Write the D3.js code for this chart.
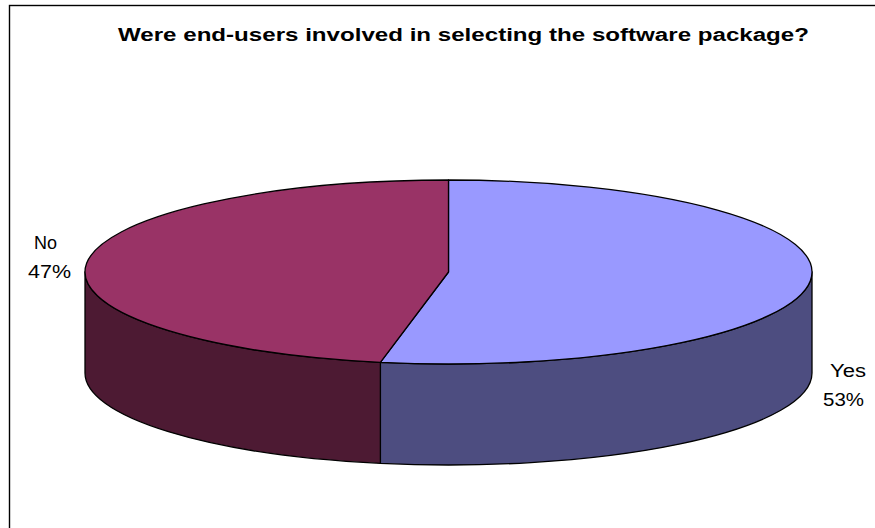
<!DOCTYPE html>
<html>
<head>
<meta charset="utf-8">
<script src="https://cdn.jsdelivr.net/npm/d3@7"></script>
<style>
  html, body { margin: 0; padding: 0; background: #fff; }
  svg { display: block; font-family: "Liberation Sans", Arial, sans-serif; }
</style>
</head>
<body>
<svg id="chart" width="875" height="528"></svg>
<script>
// Survey answers
const categories = ["Yes", "No"];
const values = [53, 47];
const topColors = ["#9999ff", "#993366"];
const sideColors = ["#4d4d80", "#4d1a33"];
const title = "Were end-users involved in selecting the software package?";

const svg = d3.select("#chart");

// chart frame (runs off the right and bottom edges)
svg.append("rect")
  .attr("x", 9.5).attr("y", 5.5)
  .attr("width", 880).attr("height", 540)
  .attr("fill", "#fff").attr("stroke", "#000").attr("stroke-width", 1.4);

// title, drawn with the chart's wide horizontal text stretch
svg.append("text")
  .attr("x", 118).attr("y", 40.5)
  .attr("font-size", 18).attr("font-weight", "bold")
  .attr("textLength", 691).attr("lengthAdjust", "spacingAndGlyphs")
  .text(title);

// 3D pie geometry
const cx = 448.5, cy = 272, rx = 363.5, ry = 92, depth = 101;
const pt = (a, dy = 0) => [cx + rx * Math.sin(a), cy - ry * Math.cos(a) + dy];

const pie = d3.pie().sort(null).value(d => d.value).startAngle(0).endAngle(2 * Math.PI);
const data = categories.map((c, i) => ({ name: c, value: values[i], i }));
const arcs = pie(data);
const total = d3.sum(values);

const g = svg.append("g");

// front walls: only the part of each slice's rim between 3 and 9 o'clock is visible
arcs.forEach(a => {
  const s = Math.max(a.startAngle, Math.PI / 2);
  const e = Math.min(a.endAngle, 3 * Math.PI / 2);
  if (s >= e) return;
  const p0 = pt(s), p1 = pt(e), q1 = pt(e, depth), q0 = pt(s, depth);
  const path = `M${p0}A${rx},${ry} 0 0 1 ${p1}L${q1}A${rx},${ry} 0 0 0 ${q0}Z`;
  g.append("path").attr("d", path)
    .attr("fill", sideColors[a.data.i])
    .attr("stroke", "#000").attr("stroke-width", 1.3).attr("stroke-linejoin", "round");
});

// top faces
arcs.forEach(a => {
  const p0 = pt(a.startAngle), p1 = pt(a.endAngle);
  const large = (a.endAngle - a.startAngle) > Math.PI ? 1 : 0;
  const path = `M${cx},${cy}L${p0}A${rx},${ry} 0 ${large} 1 ${p1}Z`;
  g.append("path").attr("d", path)
    .attr("fill", topColors[a.data.i])
    .attr("stroke", "#000").attr("stroke-width", 1.3).attr("stroke-linejoin", "round");
});

// category labels with percentages, placed outside the rim
// [x of name, baseline of name, x of percent, width of name, width of percent]
const labelLayout = {
  Yes: [830, 377, 823, 36, 41],
  No:  [34, 249, 28, 23, 43]
};
const pct = d3.format(".0%");
arcs.forEach(a => {
  const [nx, ny, px, nw, pw] = labelLayout[a.data.name];
  const t = svg.append("text").attr("font-size", 18).attr("fill", "#000");
  t.append("tspan").attr("x", nx).attr("y", ny)
    .attr("textLength", nw).attr("lengthAdjust", "spacingAndGlyphs")
    .text(a.data.name);
  t.append("tspan").attr("x", px).attr("y", ny + 29)
    .attr("textLength", pw).attr("lengthAdjust", "spacingAndGlyphs")
    .text(pct(a.data.value / total));
});
</script>
</body>
</html>
